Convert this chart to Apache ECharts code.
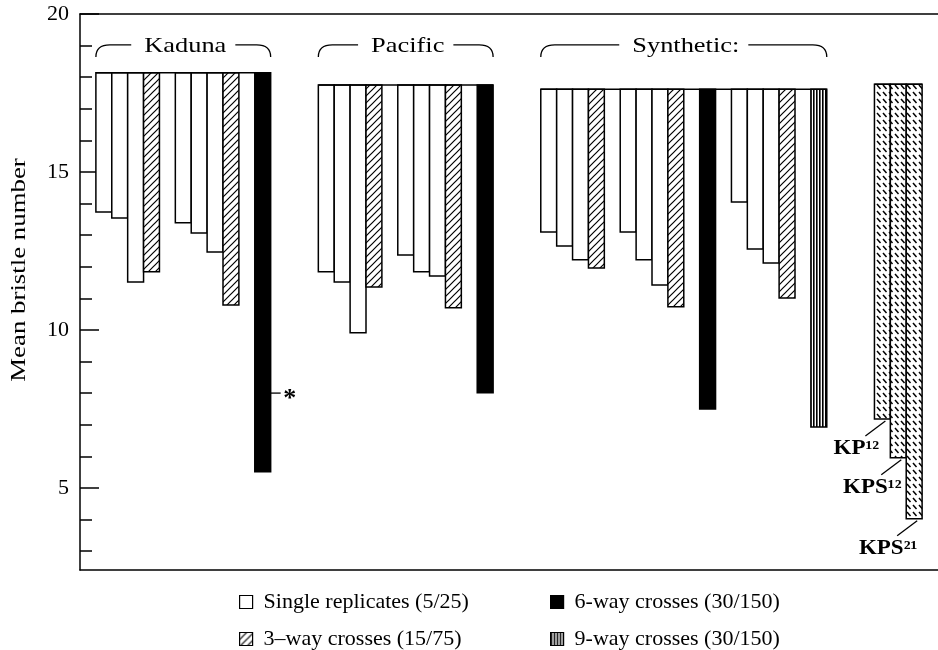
<!DOCTYPE html>
<html><head><meta charset="utf-8">
<script src="https://cdn.jsdelivr.net/npm/echarts@6/dist/echarts.min.js"></script>
<style>html,body{margin:0;padding:0;background:#fff}#c{width:938px;height:650px}</style>
</head><body><div id="c"></div>
<script>
// ---------------- data ----------------
const groupNames = ['Kaduna', 'Pacific', 'Synthetic:'];
const groupTops = [18.14, 17.75, 17.62];
const kpTop = 17.78;
const kadunaLow = [13.73, 13.54, 11.52, 11.84, null, 13.39, 13.07, 12.47, 10.79, null, 5.51];
const pacificLow = [11.84, 11.52, 9.91, 11.36, null, 12.37, 11.84, 11.71, 10.70, null, 8.01];
const syntheticLow = [13.10, 12.66, 12.22, 11.96, null, 13.10, 12.22, 11.42, 10.73, null, 7.50, null, 14.05, 12.56, 12.12, 11.01, null, 6.93];
const nativeTypes = ['single', 'single', 'single', 'three', null, 'single', 'single', 'single', 'three', null, 'six'];
const syntheticTypes = ['single', 'single', 'single', 'three', null, 'single', 'single', 'single', 'three', null, 'six', null, 'single', 'single', 'single', 'three', null, 'nine'];
const kpNames = ['KP¹²', 'KPS¹²', 'KPS²¹'];
const kpLow = [7.18, 5.95, 4.02];
const kadunaMarkValue = 8.0;
const yLabelValues = [5, 10, 15, 20];
const yMinorValues = [3, 4, 6, 7, 8, 9, 11, 12, 13, 14, 16, 17, 18, 19];
const legendNames = ['Single replicates (5/25)', '3–way crosses (15/75)', '6-way crosses (30/150)', '9-way crosses (30/150)'];
const yName = 'Mean bristle number';

// ---------------- build slots ----------------
const FONT = '"Liberation Serif", "Times New Roman", serif';
const categories = ['gap-0'];
const spans = [];
const byType = { single: [], three: [], six: [], nine: [] };
const groups = [
  { low: kadunaLow, types: nativeTypes, top: groupTops[0] },
  { low: pacificLow, types: nativeTypes, top: groupTops[1] },
  { low: syntheticLow, types: syntheticTypes, top: groupTops[2] }
];
let kadunaSixIdx = null;
groups.forEach((g, gi) => {
  const start = categories.length;
  g.low.forEach((v, i) => {
    const idx = categories.length;
    categories.push(groupNames[gi] + '-' + (i + 1));
    if (v != null) {
      byType[g.types[i]].push([idx, g.top, v]);
      if (gi === 0 && g.types[i] === 'six') kadunaSixIdx = idx;
    }
  });
  spans.push([start, categories.length - 1, g.top]);
  for (let k = 0; k < 3; k++) categories.push('gap-' + categories.length);
});
const kpData = [];
const kpStart = categories.length;
kpNames.forEach((n, i) => { kpData.push([categories.length, kpTop, kpLow[i]]); categories.push(n); });
spans.push([kpStart, categories.length - 1, kpTop]);
categories.push('gap-end');

// ---------------- patterns ----------------
function makeCanvas(w, h, draw) {
  const c = document.createElement('canvas'); c.width = w; c.height = h;
  const ctx = c.getContext('2d'); ctx.fillStyle = '#fff'; ctx.fillRect(0, 0, w, h);
  ctx.strokeStyle = '#000'; ctx.fillStyle = '#000'; draw(ctx); return c;
}
const hatchFwd = makeCanvas(7, 7, ctx => {
  ctx.lineWidth = 1.2; ctx.beginPath();
  ctx.moveTo(-1, 8); ctx.lineTo(8, -1);
  ctx.moveTo(-1, 1); ctx.lineTo(1, -1);
  ctx.moveTo(6, 8); ctx.lineTo(8, 6);
  ctx.stroke();
});
const hatchKP = makeCanvas(6, 7, ctx => {
  ctx.lineWidth = 1.5; ctx.beginPath(); ctx.moveTo(1, 1); ctx.lineTo(4.5, 5); ctx.stroke();
});
const stripes = makeCanvas(3, 4, ctx => { ctx.fillRect(0, 0, 1.6, 4); });
const fills = {
  single: '#ffffff',
  three: { image: hatchFwd, repeat: 'repeat' },
  six: '#000000',
  nine: { image: stripes, repeat: 'repeat' },
  kp: { image: hatchKP, repeat: 'repeat' }
};

// ---------------- render helpers ----------------
function barRect(api, fill) {
  const x = api.value(0), top = api.value(1), low = api.value(2);
  const p1 = api.coord([x, top]), p2 = api.coord([x, low]);
  const w = api.size([1, 0])[0];
  return { type: 'rect', shape: { x: p1[0] - w / 2, y: p1[1], width: w, height: p2[1] - p1[1] },
           style: { fill: fill, stroke: '#000', lineWidth: 1.5 } };
}
function barSeries(name, key) {
  return {
    type: 'custom', name: name, data: byType[key],
    itemStyle: { color: fills[key], borderColor: '#000', borderWidth: 1.2 },
    renderItem: (params, api) => barRect(api, fills[key])
  };
}
const TEXT_STRETCH = 1.15;
const measureCtx = document.createElement('canvas').getContext('2d');
const braceFont = '22px ' + FONT;
measureCtx.font = braceFont;

function legendAt(name, left, top) {
  return { data: [name], orient: 'horizontal', left: left, top: top,
    icon: 'rect', itemWidth: 13, itemHeight: 13, selectedMode: false,
    itemStyle: { borderColor: '#000', borderWidth: 1.2 },
    textStyle: { fontFamily: FONT, fontSize: 22, color: '#000', padding: [0, 0, 0, 6] } };
}

const option = {
  animation: false,
  backgroundColor: '#fff',
  grid: { left: 80, top: 14, width: 864, height: 556, containLabel: false },
  xAxis: [
    { type: 'category', data: categories, position: 'bottom', boundaryGap: true,
      axisLine: { onZero: false, lineStyle: { color: '#000', width: 1.5 } },
      axisTick: { show: false }, axisLabel: { show: false }, splitLine: { show: false } },
    { type: 'category', data: categories, position: 'top', boundaryGap: true,
      axisLine: { onZero: false, lineStyle: { color: '#000', width: 1.5 } },
      axisTick: { show: false }, axisLabel: { show: false }, splitLine: { show: false } }
  ],
  yAxis: [
    { type: 'value', min: 2.4, max: 20, position: 'left',
      axisLine: { show: true, onZero: false, lineStyle: { color: '#000', width: 1.5 } },
      axisTick: { show: true, inside: true, length: 19, customValues: yLabelValues, lineStyle: { color: '#000', width: 1.5 } },
      axisLabel: { customValues: yLabelValues, fontFamily: FONT, fontSize: 22, color: '#000', margin: 11 },
      splitLine: { show: false } },
    { type: 'value', min: 2.4, max: 20, position: 'left',
      axisLine: { show: false, onZero: false },
      axisTick: { show: true, inside: true, length: 12, customValues: yMinorValues, lineStyle: { color: '#000', width: 1.5 } },
      axisLabel: { show: false }, splitLine: { show: false } }
  ],
  legend: [
    legendAt(legendNames[0], 234, 586),
    legendAt(legendNames[1], 234, 623),
    legendAt(legendNames[2], 545, 586),
    legendAt(legendNames[3], 545, 623)
  ],
  graphic: [
    { type: 'text', x: 19, y: 270, rotation: Math.PI / 2, scaleX: 1.22,
      style: { text: yName, font: '22px ' + FONT, fill: '#000', textAlign: 'center', textVerticalAlign: 'middle' } }
  ],
  series: [
    barSeries(legendNames[0], 'single'),
    barSeries(legendNames[1], 'three'),
    barSeries(legendNames[2], 'six'),
    barSeries(legendNames[3], 'nine'),
    { type: 'custom', name: 'kp', data: kpData,
      renderItem: (params, api) => {
        const r = barRect(api, fills.kp);
        const cx = api.coord([api.value(0), api.value(2)]);
        const bx = cx[0], by = cx[1];
        return { type: 'group', children: [r,
          { type: 'line', shape: { x1: bx + 3, y1: by + 2, x2: bx - 17, y2: by + 17 }, style: { stroke: '#000', lineWidth: 1.3 } },
          { type: 'text', x: bx - 26, y: by + 30, scaleX: TEXT_STRETCH,
            style: { text: kpNames[params.dataIndex], font: 'bold 20px ' + FONT, fill: '#000', textAlign: 'center', textVerticalAlign: 'middle' } }
        ] };
      } },
    { type: 'custom', name: 'tops', data: spans,
      renderItem: (params, api) => {
        const w = api.size([1, 0])[0];
        const a = api.coord([api.value(0), api.value(2)]);
        const b = api.coord([api.value(1), api.value(2)]);
        return { type: 'line', shape: { x1: a[0] - w / 2, y1: a[1], x2: b[0] + w / 2, y2: a[1] }, style: { stroke: '#000', lineWidth: 1.5 } };
      } },
    { type: 'custom', name: 'braces', data: spans.slice(0, 3),
      renderItem: (params, api) => {
        const w = api.size([1, 0])[0];
        const L = api.coord([api.value(0), 19.02])[0] - w / 2;
        const R = api.coord([api.value(1), 19.02])[0] + w / 2;
        const yl = api.coord([api.value(0), 19.02])[1];
        const ye = api.coord([api.value(0), 18.64])[1];
        const name = groupNames[params.dataIndex];
        const tw = measureCtx.measureText(name).width * 1.2;
        const cxm = (L + R) / 2 + 2;
        const tl = cxm - tw / 2 - 13, tr = cxm + tw / 2 + 9;
        const path = 'M' + L + ',' + ye + ' Q' + L + ',' + yl + ' ' + (L + 14) + ',' + yl + ' L' + tl + ',' + yl +
                     ' M' + tr + ',' + yl + ' L' + (R - 14) + ',' + yl + ' Q' + R + ',' + yl + ' ' + R + ',' + ye;
        return { type: 'group', children: [
          { type: 'path', shape: { pathData: path }, style: { stroke: '#000', fill: null, lineWidth: 1.3 } },
          { type: 'text', x: cxm, y: yl + 1, scaleX: 1.2,
            style: { text: name, font: braceFont, fill: '#000', textAlign: 'center', textVerticalAlign: 'middle' } }
        ] };
      } },
    { type: 'custom', name: 'mark', data: [[kadunaSixIdx, kadunaMarkValue]],
      renderItem: (params, api) => {
        const w = api.size([1, 0])[0];
        const p = api.coord([api.value(0), api.value(1)]);
        const x0 = p[0] + w / 2;
        return { type: 'group', children: [
          { type: 'line', shape: { x1: x0, y1: p[1], x2: x0 + 10, y2: p[1] }, style: { stroke: '#000', lineWidth: 1.3 } },
          { type: 'text', x: x0 + 19, y: p[1] + 6, style: { text: '*', font: 'bold 26px ' + FONT, fill: '#000', textAlign: 'center', textVerticalAlign: 'middle' } }
        ] };
      } }
  ]
};
const chart = echarts.init(document.getElementById('c'), null, { renderer: 'canvas' });
chart.setOption(option);
</script>
</body></html>
